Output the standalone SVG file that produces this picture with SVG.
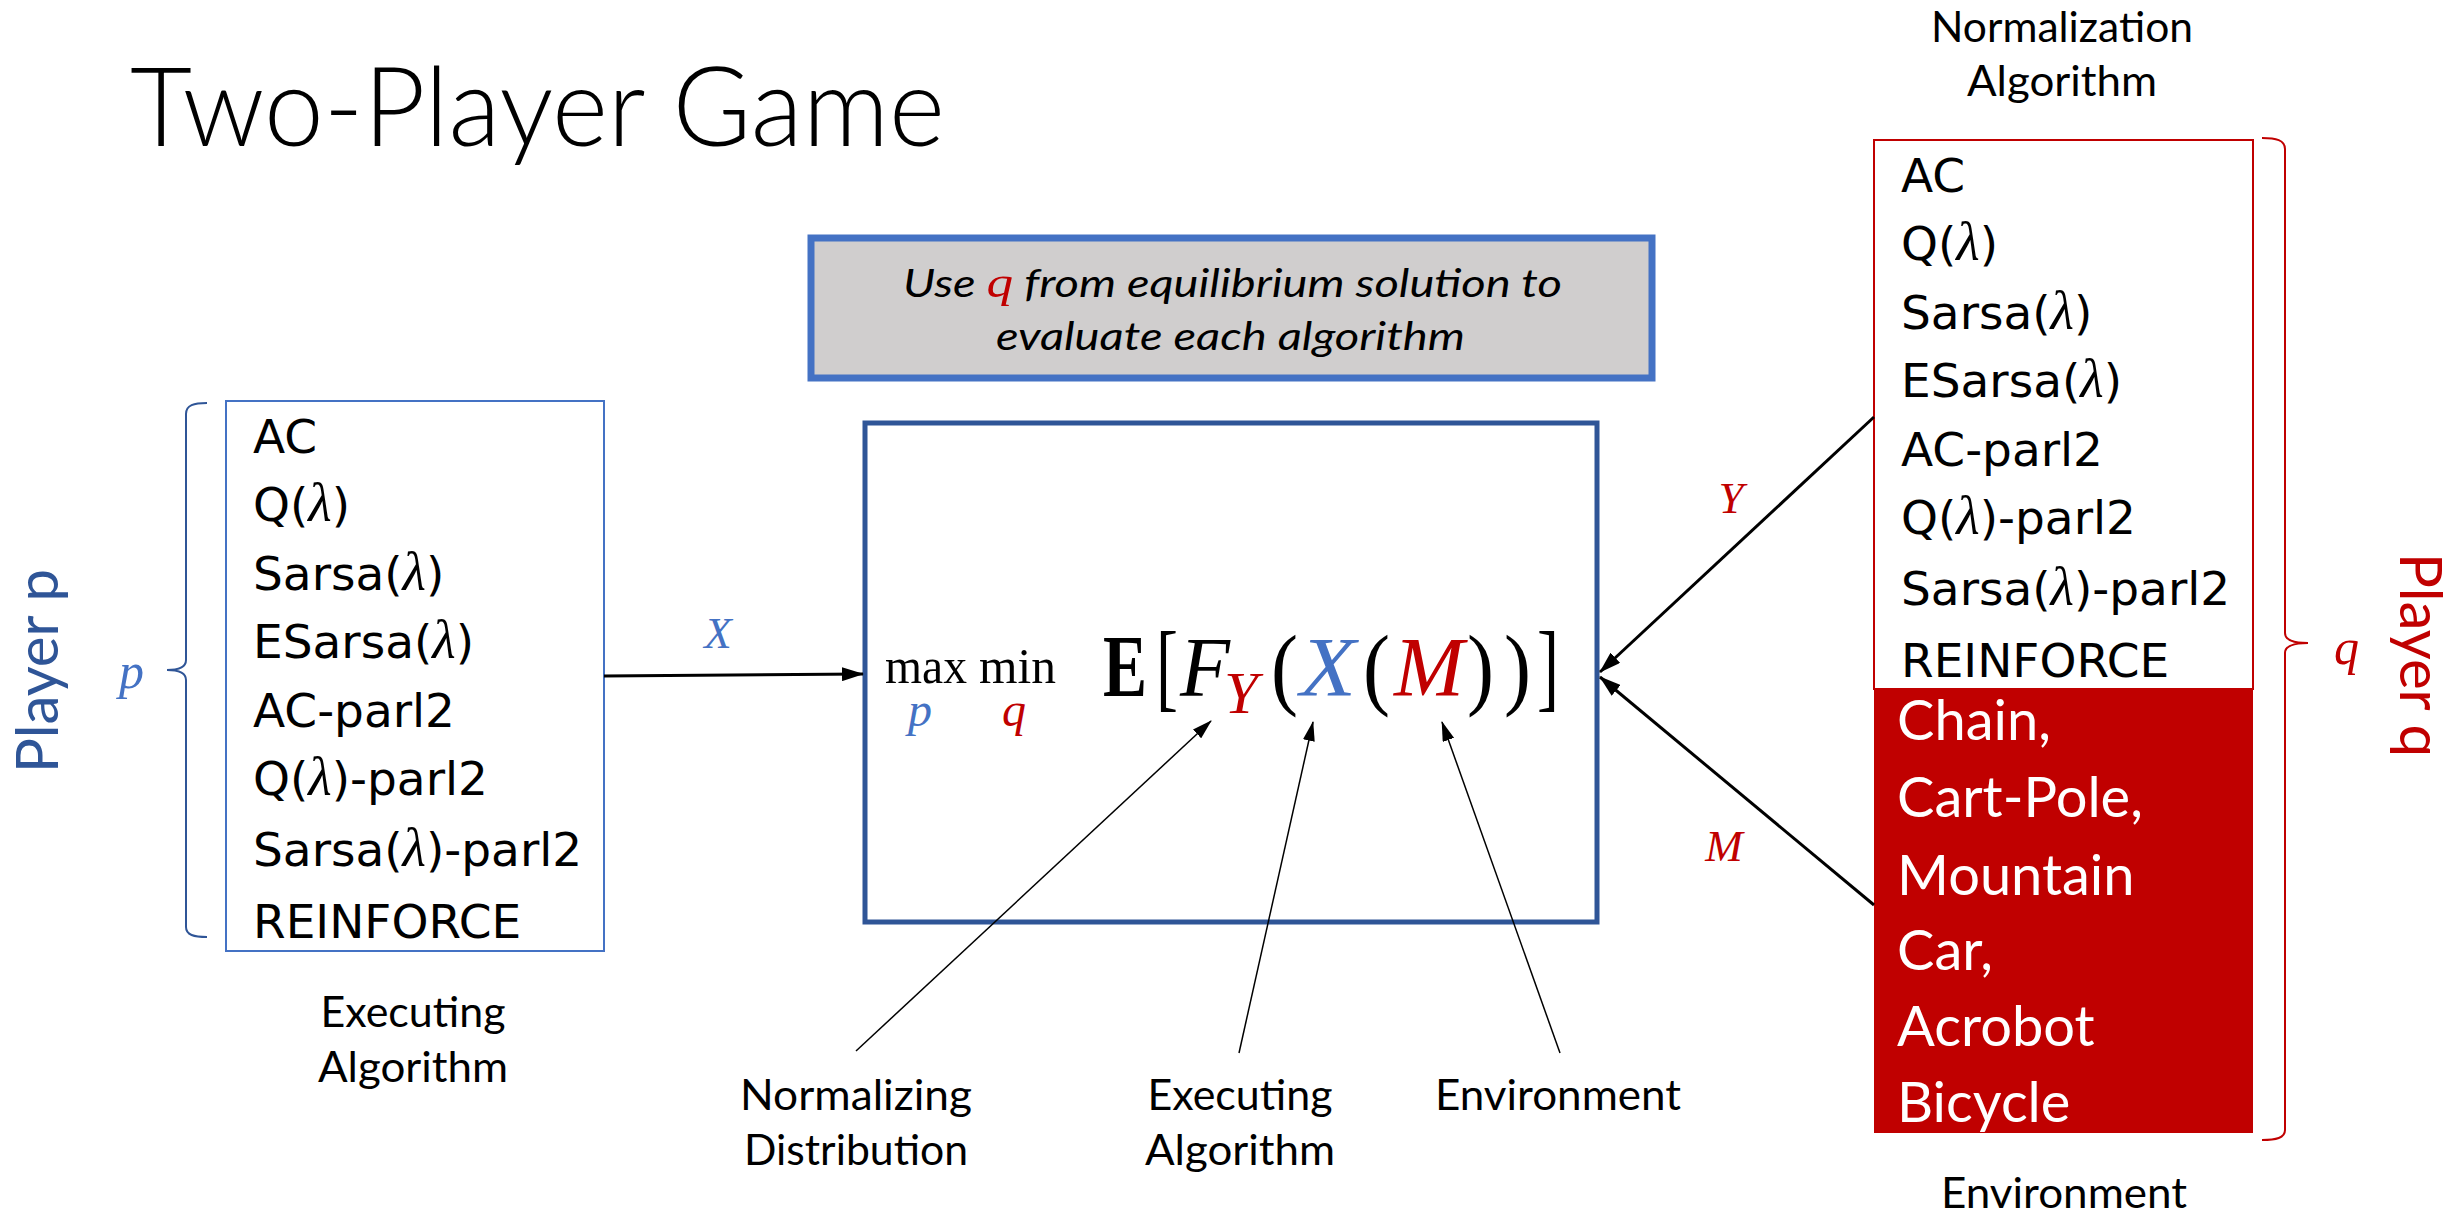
<svg xmlns="http://www.w3.org/2000/svg" width="2458" height="1218" viewBox="0 0 2458 1218">
<style>
.item{font-family:"DejaVu Sans",Verdana,sans-serif;font-size:47px;fill:#000}
.lam{font-family:"Liberation Serif","DejaVu Serif",serif;font-style:italic;font-size:54px}
.env{font-family:Lato,"Open Sans",sans-serif;font-size:56px;fill:#fff}
.lbl{font-family:Lato,"Open Sans",sans-serif;font-size:42px;fill:#000;text-anchor:middle}
.math{font-family:"Liberation Serif","DejaVu Serif",serif}
.it{font-style:italic}
.blue{fill:#4472C4}
.red{fill:#C00000}
.thick{stroke:#000;stroke-width:3;fill:none}
.thin{stroke:#000;stroke-width:1.5;fill:none}
</style>
<defs>
<marker id="ah" markerUnits="userSpaceOnUse" markerWidth="22" markerHeight="14" viewBox="0 0 22 14" refX="21" refY="7" orient="auto">
<path d="M0,0 L22,7 L0,14 z" fill="#000"/>
</marker>
<marker id="ahs" markerUnits="userSpaceOnUse" markerWidth="20" markerHeight="12" viewBox="0 0 20 12" refX="19" refY="6" orient="auto">
<path d="M0,0 L20,6 L0,12 z" fill="#000"/>
</marker>
</defs>
<rect width="2458" height="1218" fill="#fff"/>

<text id="title" x="130" y="146" font-family="Lato,'Open Sans',sans-serif" font-weight="300" font-size="110" textLength="815" lengthAdjust="spacingAndGlyphs">Two-Player Game</text>

<g id="note">
<rect x="811" y="238" width="841" height="140" fill="#D0CECE" stroke="#4472C4" stroke-width="7"/>
<text x="903" y="297" font-family="Lato,'Open Sans',sans-serif" font-style="italic" font-size="39" textLength="659" lengthAdjust="spacingAndGlyphs">Use <tspan class="math red" font-style="italic" font-size="44">q</tspan> from equilibrium solution to</text>
<text x="996" y="350" font-family="Lato,'Open Sans',sans-serif" font-style="italic" font-size="39" textLength="469" lengthAdjust="spacingAndGlyphs">evaluate each algorithm</text>
</g>

<g id="player-p">
<text transform="translate(58,671) rotate(-90)" text-anchor="middle" font-family="Lato,'Open Sans',sans-serif" font-size="58" fill="#2F5597" textLength="204" lengthAdjust="spacingAndGlyphs">Player p</text>
<path d="M207,403 C194,403 186,405 186,414 L186,660 C186,666 180,670 167,670 C180,670 186,674 186,680 L186,927 C186,935 194,937 207,937" stroke="#2F5597" stroke-width="2" fill="none"/>
<text x="119" y="688" class="math it blue" font-size="50">p</text>
</g>

<g id="executing-box">
<rect x="226" y="401" width="378" height="550" fill="#fff" stroke="#4472C4" stroke-width="2"/>
<text class="item" x="253" y="453">AC</text>
<text class="item" x="253" y="521">Q(<tspan class="lam">λ</tspan>)</text>
<text class="item" x="253" y="590">Sarsa(<tspan class="lam">λ</tspan>)</text>
<text class="item" x="253" y="658">ESarsa(<tspan class="lam">λ</tspan>)</text>
<text class="item" x="253" y="727">AC-parl2</text>
<text class="item" x="253" y="795">Q(<tspan class="lam">λ</tspan>)-parl2</text>
<text class="item" x="253" y="866">Sarsa(<tspan class="lam">λ</tspan>)-parl2</text>
<text class="item" x="253" y="938">REINFORCE</text>
<text class="lbl" x="413" y="1027" textLength="185" lengthAdjust="spacingAndGlyphs">Executing</text>
<text class="lbl" x="413" y="1082" textLength="190" lengthAdjust="spacingAndGlyphs">Algorithm</text>
</g>

<g id="objective">
<rect x="865" y="423" width="732" height="499" fill="#fff" stroke="#2F5597" stroke-width="5"/>
<g class="math">
<text x="885" y="683" font-size="50" textLength="82" lengthAdjust="spacingAndGlyphs">max</text>
<text x="979" y="683" font-size="50" textLength="77" lengthAdjust="spacingAndGlyphs">min</text>
<text x="908" y="726" font-size="48" class="it blue">p</text>
<text x="1002" y="726" font-size="48" class="it red">q</text>
<text x="1103" y="696" font-size="88" font-weight="bold" textLength="44" lengthAdjust="spacingAndGlyphs">E</text>
<text x="1156" y="699" font-size="98" textLength="22" lengthAdjust="spacingAndGlyphs">[</text>
<text x="1180" y="696" font-size="85" class="it" textLength="50" lengthAdjust="spacingAndGlyphs">F</text>
<text x="1224" y="713" font-size="60" class="it red" textLength="34" lengthAdjust="spacingAndGlyphs">Y</text>
<text x="1271" y="698" font-size="92" textLength="27" lengthAdjust="spacingAndGlyphs">(</text>
<text x="1300" y="696" font-size="85" class="it blue" textLength="56" lengthAdjust="spacingAndGlyphs">X</text>
<text x="1363" y="698" font-size="92" textLength="27" lengthAdjust="spacingAndGlyphs">(</text>
<text x="1394" y="696" font-size="85" class="it red" textLength="70" lengthAdjust="spacingAndGlyphs">M</text>
<text x="1467" y="698" font-size="92" textLength="27" lengthAdjust="spacingAndGlyphs">)</text>
<text x="1504" y="698" font-size="92" textLength="27" lengthAdjust="spacingAndGlyphs">)</text>
<text x="1537" y="699" font-size="98" textLength="22" lengthAdjust="spacingAndGlyphs">]</text>
</g>
</g>

<g id="labels-bottom">
<text class="lbl" x="856" y="1110" textLength="232" lengthAdjust="spacingAndGlyphs">Normalizing</text>
<text class="lbl" x="856" y="1165" textLength="224" lengthAdjust="spacingAndGlyphs">Distribution</text>
<text class="lbl" x="1240" y="1110" textLength="185" lengthAdjust="spacingAndGlyphs">Executing</text>
<text class="lbl" x="1240" y="1165" textLength="190" lengthAdjust="spacingAndGlyphs">Algorithm</text>
<text class="lbl" x="1558" y="1110" textLength="246" lengthAdjust="spacingAndGlyphs">Environment</text>
</g>

<g id="normalization-box">
<text class="lbl" x="2062" y="42" textLength="262" lengthAdjust="spacingAndGlyphs">Normalization</text>
<text class="lbl" x="2062" y="96" textLength="190" lengthAdjust="spacingAndGlyphs">Algorithm</text>
<rect x="1874" y="140" width="379" height="549" fill="#fff" stroke="#C00000" stroke-width="2"/>
<text class="item" x="1901" y="192">AC</text>
<text class="item" x="1901" y="260">Q(<tspan class="lam">λ</tspan>)</text>
<text class="item" x="1901" y="329">Sarsa(<tspan class="lam">λ</tspan>)</text>
<text class="item" x="1901" y="397">ESarsa(<tspan class="lam">λ</tspan>)</text>
<text class="item" x="1901" y="466">AC-parl2</text>
<text class="item" x="1901" y="534">Q(<tspan class="lam">λ</tspan>)-parl2</text>
<text class="item" x="1901" y="605">Sarsa(<tspan class="lam">λ</tspan>)-parl2</text>
<text class="item" x="1901" y="677">REINFORCE</text>
</g>

<g id="environment-box">
<rect x="1874" y="689" width="379" height="444" fill="#C00000"/>
<text class="env" x="1897" y="740">Chain,</text>
<text class="env" x="1897" y="817">Cart-Pole,</text>
<text class="env" x="1897" y="895">Mountain</text>
<text class="env" x="1897" y="970">Car,</text>
<text class="env" x="1897" y="1046">Acrobot</text>
<text class="env" x="1897" y="1122">Bicycle</text>
<text class="lbl" x="2064" y="1208" textLength="246" lengthAdjust="spacingAndGlyphs">Environment</text>
</g>

<g id="player-q">
<path d="M2262,138 C2276,138 2285,140 2285,149 L2285,633 C2285,639 2292,643 2308,643 C2292,643 2285,647 2285,653 L2285,1130 C2285,1138 2276,1140 2262,1140" stroke="#C00000" stroke-width="2" fill="none"/>
<text x="2334" y="664" class="math it red" font-size="50">q</text>
<text transform="translate(2400,655) rotate(90)" text-anchor="middle" font-family="Lato,'Open Sans',sans-serif" font-size="58" fill="#C00000" textLength="204" lengthAdjust="spacingAndGlyphs">Player q</text>
</g>

<g id="connectors">
<line class="thick" x1="604" y1="676" x2="863" y2="674" marker-end="url(#ah)"/>
<line class="thick" x1="1874" y1="417" x2="1600" y2="672" marker-end="url(#ah)"/>
<line class="thick" x1="1874" y1="905" x2="1600" y2="677" marker-end="url(#ah)"/>
<line class="thin" x1="856" y1="1051" x2="1211" y2="721" marker-end="url(#ahs)"/>
<line class="thin" x1="1239" y1="1053" x2="1313" y2="722" marker-end="url(#ahs)"/>
<line class="thin" x1="1560" y1="1053" x2="1442" y2="722" marker-end="url(#ahs)"/>
<text x="718" y="648" class="math it blue" font-size="45" text-anchor="middle">X</text>
<text x="1731" y="513" class="math it red" font-size="45" text-anchor="middle">Y</text>
<text x="1724" y="861" class="math it red" font-size="45" text-anchor="middle">M</text>
</g>
</svg>
